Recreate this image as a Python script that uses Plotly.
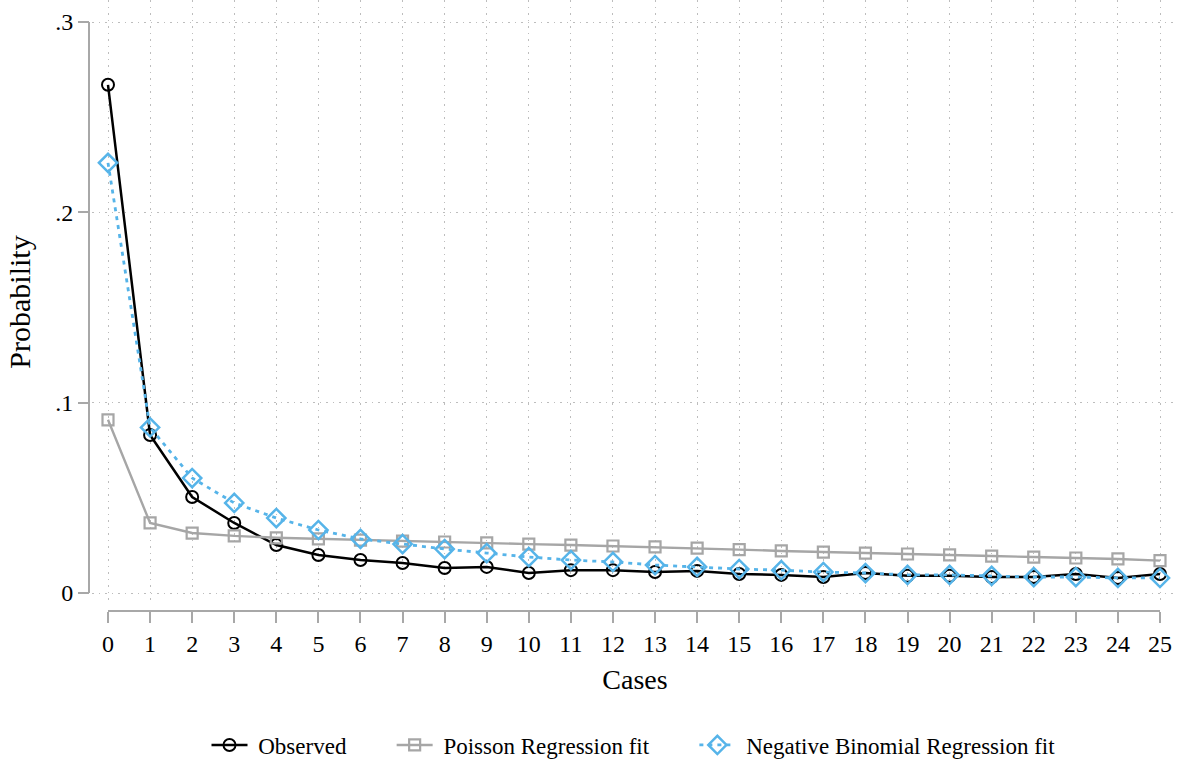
import plotly.graph_objects as go

cases = list(range(26))
observed = [0.267, 0.083, 0.0504, 0.0368, 0.0252, 0.0200, 0.0173, 0.0158, 0.0131, 0.0137,
            0.0105, 0.0120, 0.0120, 0.0110, 0.0116, 0.0100, 0.0095, 0.0084, 0.0105, 0.0090,
            0.0090, 0.0084, 0.0084, 0.0100, 0.0079, 0.0100]
poisson = [0.091, 0.0368, 0.0315, 0.0300, 0.0290, 0.0284, 0.0278, 0.0273, 0.0268, 0.0263,
           0.0257, 0.0252, 0.0247, 0.0242, 0.0236, 0.0228, 0.0221, 0.0215, 0.0210, 0.0205,
           0.0200, 0.0194, 0.0189, 0.0184, 0.0179, 0.0170]
negbin = [0.226, 0.087, 0.0604, 0.0473, 0.0394, 0.0331, 0.0284, 0.0257, 0.0231, 0.0210,
          0.0189, 0.0173, 0.0163, 0.0147, 0.0137, 0.0126, 0.0120, 0.0110, 0.0105, 0.0095,
          0.0095, 0.0090, 0.0084, 0.0084, 0.0079, 0.0079]
ytick_vals = [0, 0.1, 0.2, 0.3]
ytick_text = ["0", ".1", ".2", ".3"]

FONT = "Liberation Serif"
AXIS_GRAY = "#a8a8a8"
GRID = "#bdbdbd"
NB = "\u00a0"

fig = go.Figure()
fig.add_trace(go.Scatter(
    x=cases, y=observed, mode="lines+markers", name=NB + "Observed" + NB * 7,
    line=dict(color="black", width=2.5),
    marker=dict(symbol="circle-open", size=12, color="black", line=dict(width=2)),
))
fig.add_trace(go.Scatter(
    x=cases, y=poisson, mode="lines+markers", name=NB + "Poisson Regression fit" + NB * 7,
    line=dict(color="#a6a6a6", width=2.4),
    marker=dict(symbol="square-open", size=11, color="#a6a6a6", line=dict(width=2.2)),
))
fig.add_trace(go.Scatter(
    x=cases, y=negbin, mode="lines+markers", name=NB + "Negative Binomial Regression fit",
    line=dict(color="#56b4e9", width=2.8, dash="4px,5px"),
    marker=dict(symbol="diamond-open", size=14, color="#56b4e9", line=dict(width=2.5)),
))

W, H = 1180, 763
L, R, T, B = 89, 2, 0, 152
pw = W - L - R
ph = H - T - B

fig.update_layout(
    width=W, height=H,
    margin=dict(l=L, r=R, t=T, b=B, autoexpand=False),
    paper_bgcolor="white", plot_bgcolor="white",
    font=dict(family=FONT, color="black", size=22),
    showlegend=True,
    legend=dict(orientation="h", x=0.5, xanchor="center", y=-(745 - 611) / ph, yanchor="middle",
                font=dict(family=FONT, size=23), itemwidth=36, traceorder="normal"),
    xaxis=dict(
        domain=[3 / pw, 1], range=[-16 / 42.08, 25 + 18 / 42.08],
        anchor="free", position=0,
        tickmode="array", tickvals=cases, ticktext=[str(c) for c in cases],
        ticks="outside", ticklen=11, tickwidth=2, tickcolor=AXIS_GRAY,
        showline=False, zeroline=False,
        showgrid=True, gridcolor=GRID, griddash="1.5px,5px", gridwidth=1,
        tickfont=dict(family=FONT, size=24),
        title=dict(text="Cases", font=dict(family=FONT, size=28), standoff=13),
    ),
    yaxis=dict(
        domain=[7 / ph, 1], range=[-11 / 1903, 0.3 + 22 / 1903],
        anchor="free", position=0,
        tickmode="array", tickvals=ytick_vals, ticktext=ytick_text,
        ticks="outside", ticklen=11, tickwidth=2, tickcolor=AXIS_GRAY,
        showline=False, zeroline=False,
        showgrid=True, gridcolor=GRID, griddash="1.5px,5px", gridwidth=1,
        tickfont=dict(family=FONT, size=24),
        title=dict(text="Probability", font=dict(family=FONT, size=30), standoff=14),
    ),
)

# Stata-style axis lines spanning only the labelled range
fig.add_shape(type="line", xref="x", yref="paper", x0=cases[0], x1=cases[-1], y0=0, y1=0,
              line=dict(color=AXIS_GRAY, width=2))
fig.add_shape(type="line", xref="paper", yref="y", x0=0, x1=0, y0=ytick_vals[0], y1=ytick_vals[-1],
              line=dict(color=AXIS_GRAY, width=2))

fig.write_html("out.html", config={"displayModeBar": False},
               post_script="document.body.style.margin='0px';document.body.style.padding='0px';")
